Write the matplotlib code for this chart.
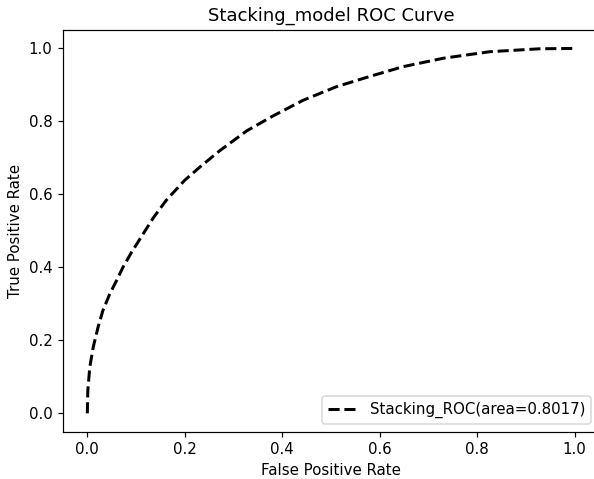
import matplotlib
matplotlib.use("Agg")
import matplotlib.pyplot as plt
import numpy as np

# ROC points
fpr = [0.0, 0.001, 0.005, 0.012, 0.022, 0.032, 0.046, 0.060, 0.073, 0.091,
       0.101, 0.135, 0.162, 0.200, 0.231, 0.272, 0.327, 0.381, 0.443, 0.511,
       0.579, 0.648, 0.730, 0.826, 0.928, 1.0]
tpr = [0.0, 0.062, 0.126, 0.181, 0.236, 0.282, 0.327, 0.364, 0.400, 0.442,
       0.463, 0.535, 0.584, 0.639, 0.675, 0.720, 0.774, 0.815, 0.858, 0.895,
       0.923, 0.950, 0.973, 0.991, 0.999, 1.0]
auc_value = 0.8017

dpi = 108
fig = plt.figure(figsize=(594 / dpi, 479 / dpi), dpi=dpi)
ax = fig.add_axes([0.106, 0.099, 0.9024, 0.838])

ax.plot(fpr, tpr, color='k', linestyle='--', linewidth=2,
        label='Stacking_ROC(area=%0.4f)' % auc_value)

ax.set_xlabel('False Positive Rate')
ax.set_ylabel('True Positive Rate')
ax.set_title('Stacking_model ROC Curve')
ax.legend(loc='lower right')
# the reference is cropped just before the right frame line
ax.spines['right'].set_visible(False)

fig.savefig('out.png', dpi=dpi)
